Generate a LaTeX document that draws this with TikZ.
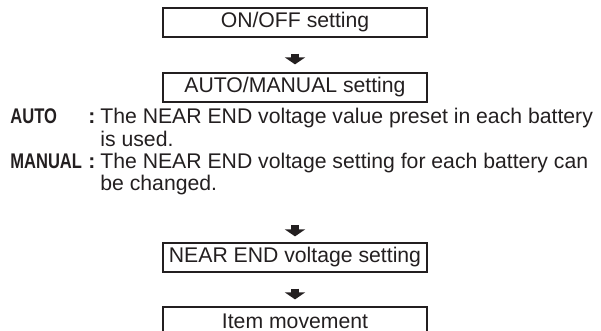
\documentclass[tikz,border=0pt]{standalone}
\usepackage{fontspec}
\setmainfont{Liberation Sans}
\newfontfamily\condbf{Liberation Sans}[FakeStretch=0.78]
\usetikzlibrary{positioning, arrows.meta}
\definecolor{inkgray}{RGB}{35, 31, 32}

\tikzset{
  stepbox/.style={draw=inkgray, line width=0.6pt, text=inkgray,
                  minimum width=132pt, minimum height=14.5pt, inner sep=0pt},
  flowarrow/.style={inkgray, line width=4pt,
                    -{Triangle[width=10pt, length=3.5pt]}},
  txt/.style={anchor=base west, inner sep=0pt, text=inkgray},
}

\begin{document}
\begin{tikzpicture}[x=0.5pt, y=-0.5pt, font=\fontsize{10.6}{12.7}\selectfont]
  \useasboundingbox (0,0) rectangle (601,331);
  % steps
  \node[stepbox] (onoff)   at (295,22.5)  {ON/OFF setting};
  \node[stepbox] (automan) at (295,87.5)  {AUTO/MANUAL setting};
  \node[stepbox] (nearend) at (295,257.5) {NEAR END voltage setting};
  \node[stepbox] (itemmov) at (295,321.5) {Item movement};
  % mode notes
  \node[txt] (autolbl) at (10,124) {\condbf\bfseries AUTO};
  \node[txt] (autocol) at (88,124) {\bfseries :};
  \node[txt] (manlbl)  at (10,169) {\condbf\bfseries MANUAL};
  \node[txt] (mancol)  at (88,169) {\bfseries :};
  \foreach \n/\y/\txt in {l1/124/The NEAR END voltage value preset in each battery,
                          l2/147/is used.,
                          l3/169/The NEAR END voltage setting for each battery can,
                          l4/191/be changed.} {
    \node[txt] (\n) at (100,\y) {\txt};
  }
  % arrows
  \coordinate (midtop) at (295,225);
  \draw[flowarrow, shorten <=8pt, shorten >=4pt] (onoff) -- (automan);
  \draw[flowarrow, shorten >=3pt] (midtop) -- (nearend);
  \draw[flowarrow, shorten <=8pt, shorten >=3.5pt] (nearend) -- (itemmov);
\end{tikzpicture}
\end{document}
